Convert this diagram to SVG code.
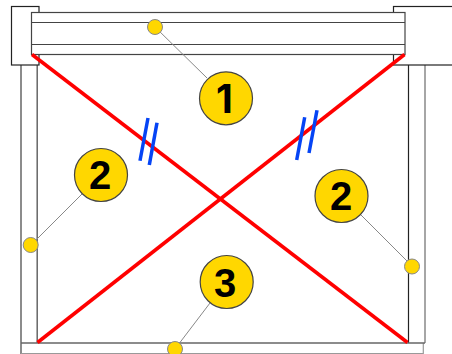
<svg xmlns="http://www.w3.org/2000/svg" width="452" height="354" viewBox="0 0 452 354">
<style>
.f{fill:#fff;stroke:#444;stroke-width:1.2}
.b{fill:none;stroke:#444;stroke-width:1.2}
.k{fill:#fff;stroke:#222;stroke-width:1.2}
.g{fill:none;stroke:#666;stroke-width:1.5}
.r{stroke:#f00;stroke-width:3.5;fill:none}
.u{stroke:#0544f5;stroke-width:3.5;fill:none}
.l{stroke:#888;stroke-width:1;fill:none}
.big{fill:#ffd700;stroke:#444;stroke-width:1.2}
.dot{fill:#ffd700;stroke:#888;stroke-width:1}
text{font-family:"Liberation Sans",Arial,sans-serif;font-weight:700;font-size:40px;text-anchor:middle;fill:#000}
</style>
<rect width="452" height="354" fill="#fff"/>
<g id="frame">
<line class="g" x1="21" y1="65" x2="21" y2="354"/>
<line class="g" x1="37.2" y1="54" x2="37.2" y2="343"/>
<line class="k" x1="408.5" y1="65" x2="408.5" y2="343"/>
<line class="g" x1="425" y1="65" x2="425" y2="343" style="stroke:#888"/>
<path d="M21 353.5H423.3V343" fill="none" stroke="#999" stroke-width="1.2"/>
<line class="g" x1="21" y1="343" x2="425" y2="343"/>
<rect class="k" x="393.5" y="6.5" width="60" height="58.5"/>
<rect class="k" x="11.5" y="6.5" width="27.5" height="58.5"/>
<rect class="f" x="31.5" y="12.5" width="373.5" height="42"/>
<line class="b" x1="31.5" y1="22.5" x2="405" y2="22.5"/>
<line class="b" x1="31.5" y1="44.5" x2="405" y2="44.5"/>
</g>
<g id="connectors">
<line class="l" x1="155" y1="27" x2="207" y2="78"/>
<line class="l" x1="31" y1="245" x2="82" y2="194"/>
<line class="l" x1="412" y1="266" x2="361" y2="215"/>
<line class="l" x1="175" y1="349" x2="210" y2="303"/>
</g>
<g id="braces">
<line class="r" x1="32" y1="54.5" x2="407.5" y2="342.5"/>
<line class="r" x1="404.5" y1="54.5" x2="37.5" y2="342.5"/>
<line class="u" x1="148" y1="118" x2="140" y2="160.7"/>
<line class="u" x1="157" y1="122.7" x2="149.3" y2="165"/>
<line class="u" x1="304.7" y1="117.3" x2="296.7" y2="160"/>
<line class="u" x1="317" y1="110.3" x2="309" y2="153"/>
</g>
<g id="node-1"><circle class="dot" cx="155" cy="27" r="7.5"/><circle class="big" cx="226" cy="98.3" r="26.5"/><text x="224.5" y="112.5" style="font-family:Inter,'Liberation Sans',sans-serif;font-size:39px">1</text></g>
<g id="node-2-left"><circle class="dot" cx="30.7" cy="245" r="7.5"/><circle class="big" cx="101" cy="175" r="26.5"/><text x="100" y="189.3">2</text></g>
<g id="node-2-right"><circle class="dot" cx="412" cy="266.5" r="7.5"/><circle class="big" cx="341.5" cy="196" r="26.5"/><text x="341" y="210">2</text></g>
<g id="node-3"><circle class="dot" cx="175" cy="349" r="7.5"/><circle class="big" cx="226.7" cy="282" r="26.5"/><text x="225" y="296.5">3</text></g>
</svg>
